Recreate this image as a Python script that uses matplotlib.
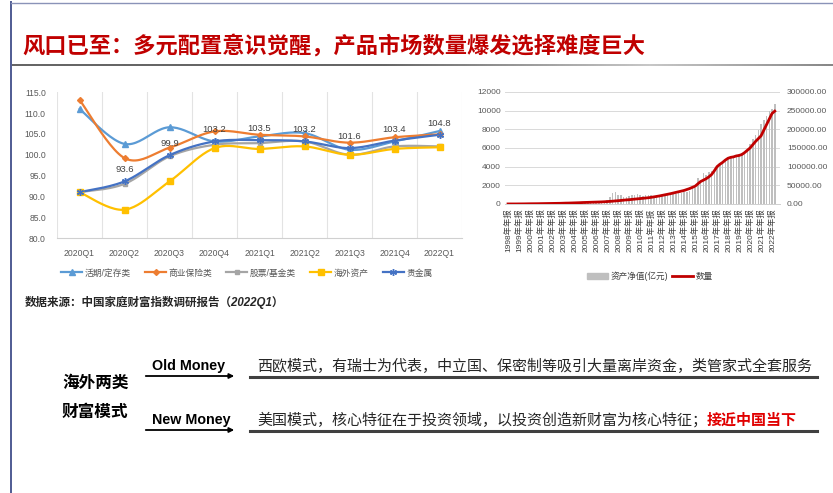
import numpy as np
import matplotlib
matplotlib.use('Agg')
import matplotlib.pyplot as plt
from matplotlib.lines import Line2D
from matplotlib.patches import Patch, FancyArrowPatch

plt.rcParams['font.family'] = ['Liberation Sans', 'Noto Sans CJK SC', 'DejaVu Sans']
plt.rcParams['axes.unicode_minus'] = False

# ---------------- data ----------------
title = '风口已至：多元配置意识觉醒，产品市场数量爆发选择难度巨大'

quarters = ['2020Q1', '2020Q2', '2020Q3', '2020Q4', '2021Q1', '2021Q2', '2021Q3', '2021Q4', '2022Q1']
s_names = ['活期/定存类', '商业保险类', '股票/基金类', '海外资产', '贵金属']
s_demand = [111.0, 102.6, 106.6, 103.2, 104.4, 105.2, 101.2, 103.2, 105.7]
s_insure = [113.2, 99.2, 101.7, 105.6, 104.8, 104.4, 102.9, 104.2, 104.9]
s_stock = [91.0, 93.0, 99.6, 102.4, 102.8, 103.2, 100.0, 102.0, 102.0]
s_overseas = [91.0, 86.8, 93.6, 101.6, 101.4, 102.0, 100.0, 101.4, 101.8]
s_metal = [91.0, 93.6, 99.9, 103.2, 103.5, 103.2, 101.6, 103.4, 104.8]
metal_labels = ['', '93.6', '99.9', '103.2', '103.5', '103.2', '101.6', '103.4', '104.8']

years = list(range(1998, 2023))
year_labels = [f'{y}年年报' for y in years]
# quarterly fund net asset value (亿元), 1998Q1 .. 2022Q2
nav = [50, 80, 100, 110,
       300, 400, 500, 560,
       600, 700, 800, 850,
       900, 1000, 1100, 1200,
       1300, 1400, 1300, 1300,
       1500, 1600, 1700, 1700,
       2500, 3000, 3300, 3300,
       3600, 4000, 4500, 4700,
       5000, 5500, 7000, 8600,
       11000, 18000, 30000, 32000,
       25000, 23000, 20000, 19000,
       21000, 24000, 25000, 26000,
       23000, 22000, 25000, 25000,
       23000, 22000, 21000, 21500,
       23000, 25000, 26000, 28000,
       29000, 28000, 30000, 30000,
       31000, 33000, 36000, 45000,
       42000, 70000, 62000, 83000,
       78000, 85000, 88000, 92000,
       97000, 105000, 110000, 116000,
       123000, 125000, 127000, 130000,
       135000, 137000, 140000, 148000,
       160000, 175000, 185000, 198000,
       215000, 225000, 235000, 248000,
       255000, 268000]
# quarterly fund count
count = [5, 6, 6, 6,
         10, 12, 15, 20,
         25, 28, 30, 33,
         40, 45, 50, 55,
         60, 65, 70, 75,
         85, 95, 100, 110,
         120, 130, 140, 155,
         165, 175, 185, 195,
         205, 215, 225, 240,
         260, 280, 300, 330,
         350, 380, 410, 440,
         460, 490, 520, 550,
         580, 610, 640, 670,
         710, 760, 810, 860,
         920, 980, 1040, 1100,
         1170, 1240, 1310, 1380,
         1450, 1550, 1650, 1780,
         1900, 2150, 2400, 2550,
         2700, 2900, 3150, 3550,
         4000, 4250, 4450, 4700,
         4900, 5000, 5050, 5150,
         5200, 5300, 5500, 5750,
         6000, 6350, 6700, 7000,
         7300, 7900, 8500, 9100,
         9700, 9950]

old_text = '西欧模式，有瑞士为代表，中立国、保密制等吸引大量离岸资金，类管家式全套服务'
new_text = '美国模式，核心特征在于投资领域，以投资创造新财富为核心特征；'
new_red = '接近中国当下'

# ---------------- helpers ----------------
W, H = 833, 493
fig = plt.figure(figsize=(W / 100, H / 100), dpi=100)


def rect(x0, y0, x1, y1):
    return [x0 / W, 1 - y1 / H, (x1 - x0) / W, (y1 - y0) / H]


def fx(x):
    return x / W


def fy(y):
    return 1 - y / H


def smooth(xv, yv, n=24):
    P = np.column_stack([np.asarray(xv, float), np.asarray(yv, float)])
    P = np.vstack([P[0], P, P[-1]])
    t = np.linspace(0, 1, n, endpoint=False)[:, None]
    out = []
    for i in range(1, len(P) - 2):
        p0, p1, p2, p3 = P[i - 1], P[i], P[i + 1], P[i + 2]
        c1 = p1 + (p2 - p0) / 6
        c2 = p2 - (p3 - p1) / 6
        seg = ((1 - t) ** 3) * p1 + 3 * ((1 - t) ** 2) * t * c1 + 3 * (1 - t) * t ** 2 * c2 + t ** 3 * p2
        out.append(seg)
    out.append(P[-2][None, :])
    arr = np.vstack(out)
    return arr[:, 0], arr[:, 1]


# ---------------- frame & title ----------------
fig.add_artist(Line2D([fx(11), fx(11)], [fy(2), fy(493)], transform=fig.transFigure,
                      color='#4F5B93', lw=1.4))
fig.add_artist(Line2D([fx(11), fx(833)], [fy(3), fy(3)], transform=fig.transFigure,
                      color='#8A93B8', lw=1.0))
fig.text(fx(22), fy(46), title, color='#C00000', fontsize=16.0, fontweight='bold',
         va='center', ha='left')
# gradient rule under title
axg = fig.add_axes(rect(12, 64, 833, 66.5))
gx = np.linspace(12, 833, 400)
gv = np.where(gx < 380, 0.40,
              np.where(gx < 650, 0.40 + (gx - 380) / 270 * 0.38, 0.78 - (gx - 650) / 183 * 0.25))
axg.imshow(np.tile(gv, (2, 1)), cmap='gray', vmin=0, vmax=1, aspect='auto',
           extent=(0, 1, 0, 1), interpolation='bilinear')
axg.set_axis_off()

# ---------------- left chart ----------------
ax1 = fig.add_axes(rect(57, 92.3, 462, 238))
xq = np.arange(len(quarters))
specs = [
    (s_demand, '#5B9BD5', '^', 4.0),
    (s_insure, '#ED7D31', 'D', 3.0),
    (s_stock, '#A5A5A5', 's', 3.5),
    (s_overseas, '#FFC000', 's', 3.8),
    (s_metal, '#4472C4', (6, 2, 0), 5.0),
]
handles = []
for (vals, col, mk, ms), nm in zip(specs, s_names):
    sx, sy = smooth(xq, vals)
    ax1.plot(sx, sy, color=col, lw=1.6, solid_capstyle='round', zorder=3)
    ax1.plot(xq, vals, ls='none', marker=mk, color=col, ms=ms, mew=1.0, zorder=4)
    handles.append(Line2D([], [], color=col, lw=1.6, marker=mk, ms=ms, mew=1.0))
for xi, v, lb in zip(xq, s_metal, metal_labels):
    if lb:
        ax1.annotate(lb, (xi, v), xytext=(0, 5), textcoords='offset points',
                     ha='center', va='bottom', fontsize=6.8, color='#404040', zorder=5)
ax1.set_xlim(-0.5, len(quarters) - 0.5)
ax1.set_ylim(80, 115)
ax1.set_yticks(np.arange(80, 115.1, 5))
ax1.set_yticklabels([f'{v:.1f}' for v in np.arange(80, 115.1, 5)])
ax1.set_xticks(xq)
ax1.set_xticklabels(quarters)
for b in np.arange(-0.5, len(quarters), 1.0):
    ax1.axvline(b, color='#E3E3E3', lw=0.8, zorder=1)
for sp in ['top', 'right', 'left']:
    ax1.spines[sp].set_visible(False)
ax1.spines['bottom'].set_color('#D0D0D0')
ax1.spines['bottom'].set_linewidth(0.8)
ax1.tick_params(length=0, labelsize=6.2, colors='#595959')
ax1.tick_params(axis='x', pad=8)
ax1.tick_params(axis='y', pad=8)
fig.legend(handles, s_names, loc='center', bbox_to_anchor=(fx(247), fy(273)), ncol=5,
           frameon=False, fontsize=6.3, handlelength=2.4, handletextpad=0.3,
           columnspacing=1.6, labelcolor='#595959')

fig.text(fx(25), fy(302), '数据来源：中国家庭财富指数调研报告（2022Q1）', fontsize=8.3,
         fontweight='bold', style='italic', color='#262626', va='center', ha='left')

# ---------------- right chart ----------------
ax2 = fig.add_axes(rect(505, 92, 780, 204))
ax2b = ax2.twinx()
idx = np.arange(len(nav))
ax2b.bar(idx, nav, width=0.55, color='#BFBFBF', zorder=2)
ax2b.set_ylim(0, 300000)
ax2b.set_yticks(np.arange(0, 300001, 50000))
ax2b.set_yticklabels([f'{v:.2f}' for v in np.arange(0, 300001, 50000)])
ax2b.grid(axis='y', color='#D9D9D9', lw=0.7)
ax2b.set_axisbelow(True)
ax2.plot(idx, count, color='#C00000', lw=2.0, zorder=5)
ax2.set_ylim(0, 12000)
ax2.set_yticks(np.arange(0, 12001, 2000))
ax2.set_xlim(-1.1, 98.9)
ax2.set_xticks(idx[::4][:len(year_labels)])
ax2.set_xticklabels(year_labels, rotation=90, fontsize=6.0, color='#404040')
ax2.set_zorder(ax2b.get_zorder() + 1)
ax2.patch.set_visible(False)
for a in (ax2, ax2b):
    for sp in ['top', 'right', 'left']:
        a.spines[sp].set_visible(False)
    a.spines['bottom'].set_color('#D0D0D0')
    a.spines['bottom'].set_linewidth(0.7)
ax2.tick_params(axis='y', length=0, labelsize=6.0, colors='#595959', pad=3)
ax2.tick_params(axis='x', length=0, pad=3)
ax2b.tick_params(axis='y', length=0, labelsize=6.0, colors='#595959', pad=5)
fig.legend([Patch(color='#BFBFBF'), Line2D([], [], color='#C00000', lw=2)],
           ['资产净值(亿元)', '数量'], loc='center', bbox_to_anchor=(fx(650), fy(276)),
           ncol=2, frameon=False, fontsize=6.2, handlelength=2.5, handletextpad=0.3,
           columnspacing=0.4, labelcolor='#404040')

# ---------------- bottom section ----------------
fig.text(fx(62), fy(383), '海外两类', fontsize=12, fontweight='bold', color='black', va='center')
fig.text(fx(62), fy(412), '财富模式', fontsize=12, fontweight='bold', color='black', va='center')

for label, yt, ya in [('Old Money', 366, 376), ('New Money', 420, 430)]:
    fig.text(fx(152), fy(yt), label, fontsize=10.3, fontweight='bold', color='black',
             va='center', ha='left', family='Liberation Sans')
    fig.add_artist(FancyArrowPatch((fx(143), fy(ya)), (fx(237), fy(ya)), transform=fig.transFigure,
                                   arrowstyle='-|>', mutation_scale=7, lw=1.3, color='black'))
    fig.add_artist(Line2D([fx(250), fx(817)], [fy(ya + 1), fy(ya + 1)], transform=fig.transFigure,
                          color='#404040', lw=2.2))

fig.text(fx(257), fy(366), old_text, fontsize=10.8, color='#262626', va='center', ha='left',
         family='Noto Sans CJK SC')
t_new = fig.text(fx(257), fy(420), new_text, fontsize=10.8, color='#262626', va='center', ha='left',
                 family='Noto Sans CJK SC')
r = fig.canvas.get_renderer()
bb = t_new.get_window_extent(renderer=r)
fig.text(bb.x1 / fig.bbox.width, fy(420), new_red, fontsize=10.8, color='#E00000',
         fontweight='bold', va='center', ha='left', family='Noto Sans CJK SC')

fig.savefig('out.png', dpi=100)
